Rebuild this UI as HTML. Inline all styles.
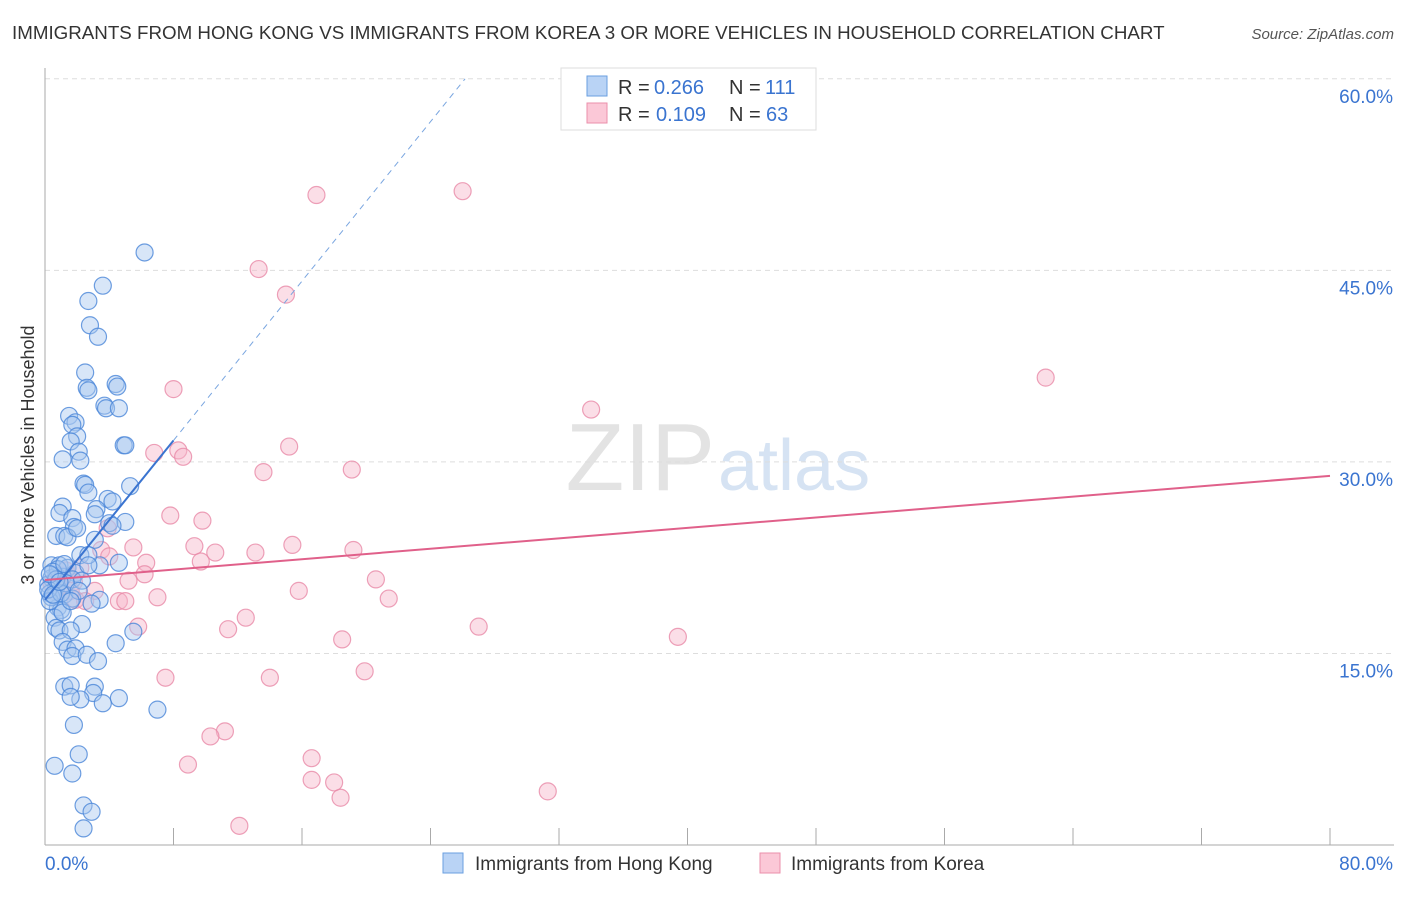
<!DOCTYPE html>
<html><head><meta charset="utf-8"><style>
body{margin:0;background:#fff;font-family:"Liberation Sans",sans-serif;}
svg text{font-family:"Liberation Sans",sans-serif;}
</style></head><body>
<svg width="1406" height="892">
<text x="12" y="39" font-size="18.75" fill="#333">IMMIGRANTS FROM HONG KONG VS IMMIGRANTS FROM KOREA 3 OR MORE VEHICLES IN HOUSEHOLD CORRELATION CHART</text>
<text x="1394" y="39" font-size="15" fill="#555" font-style="italic" text-anchor="end">Source: ZipAtlas.com</text>
<text x="715" y="490" font-size="96" fill="#e3e3e3" text-anchor="end" font-family="Liberation Serif">ZIP</text>
<text x="718" y="490" font-size="72" fill="#d6e3f3">atlas</text>
<g id="grid"></g>
<g id="axes"></g>
<text transform="translate(34,455) rotate(-90)" font-size="18" fill="#333" text-anchor="middle">3 or more Vehicles in Household</text>
<g id="marks"></g>
<g id="trend"></g>
<g>
<rect x="561" y="68" width="255" height="62" fill="#fff" stroke="#ddd"/>
<rect x="587" y="76" width="20" height="20" fill="#b9d3f5" stroke="#6a9fe0"/>
<rect x="587" y="103" width="20" height="20" fill="#fbc8d7" stroke="#eb8fab"/>
<text x="618" y="94" font-size="20" fill="#333">R =</text><text x="654" y="94" font-size="20" fill="#3a74d0">0.266</text>
<text x="729" y="94" font-size="20" fill="#333">N =</text><text x="765" y="94" font-size="20" fill="#3a74d0">111</text>
<text x="618" y="121" font-size="20" fill="#333">R =</text><text x="656" y="121" font-size="20" fill="#3a74d0">0.109</text>
<text x="729" y="121" font-size="20" fill="#333">N =</text><text x="766" y="121" font-size="20" fill="#3a74d0">63</text>
</g>
<g>
<rect x="443" y="853" width="20" height="20" fill="#b9d3f5" stroke="#6a9fe0"/>
<text x="475" y="870" font-size="19" fill="#333">Immigrants from Hong Kong</text>
<rect x="760" y="853" width="20" height="20" fill="#fbc8d7" stroke="#eb8fab"/>
<text x="791" y="870" font-size="19" fill="#333">Immigrants from Korea</text>
</g>
</svg>
<script>
const yTicks=[15,30,45,60];
const xTickLabels=["0.0%","80.0%"];
const blueTrend=[19.2,1.56];
const pinkTrend=[20.75,0.102];
const blueX=[6.2,3.6,2.7,2.8,3.3,2.5,2.6,2.7,4.4,4.5,3.7,3.8,4.6,1.5,1.9,1.7,2.0,1.6,4.9,5.0,2.1,2.2,1.1,5.3,2.4,2.5,2.7,3.9,4.2,1.1,3.2,3.1,5.0,4.0,4.2,0.9,1.7,1.8,0.7,1.2,1.4,3.1,2.2,4.6,3.4,0.4,0.9,1.4,0.7,1.9,1.1,0.4,0.2,0.7,1.7,2.3,0.3,0.6,1.2,1.7,3.4,2.9,0.8,1.0,0.6,2.3,0.7,0.9,1.6,5.5,1.1,4.4,1.4,1.9,1.7,2.6,3.3,1.2,1.6,3.1,3.0,2.2,1.6,4.6,3.6,7.0,1.8,2.1,0.6,1.7,2.4,2.9,2.4,0.4,0.8,0.3,0.2,1.1,0.5,1.3,2.1,2.7,1.0,0.7,0.3,1.2,1.6,2.7,2.0,0.5,0.9];
const blueY=[46.4,43.8,42.6,40.7,39.8,37.0,35.8,35.6,36.1,35.9,34.4,34.2,34.2,33.6,33.1,32.9,32.0,31.6,31.3,31.3,30.8,30.1,30.2,28.1,28.3,28.2,27.6,27.1,26.9,26.5,26.3,25.9,25.3,25.2,25.0,26.0,25.6,24.9,24.2,24.2,24.1,23.9,22.7,22.1,21.9,21.9,21.9,21.7,21.1,21.3,21.0,20.9,20.4,20.2,20.8,20.7,19.7,19.5,19.6,19.3,19.2,18.9,18.6,18.4,17.8,17.3,17.0,16.8,16.8,16.7,15.9,15.8,15.3,15.4,14.8,14.9,14.4,12.4,12.5,12.4,11.9,11.4,11.6,11.5,11.1,10.6,9.4,7.1,6.2,5.6,3.1,2.6,1.3,19.4,21.6,19.1,20.0,18.2,21.4,20.5,19.9,22.7,19.7,20.8,21.2,22.0,19.1,21.9,24.8,19.6,20.6];
const pinkX=[26.0,16.9,13.3,15.0,62.3,8.0,34.0,15.2,6.8,8.3,8.6,13.6,19.1,7.8,9.8,3.9,9.3,19.2,15.4,13.1,10.6,3.5,5.5,9.7,4.0,6.3,2.2,1.1,6.2,20.6,5.2,1.8,0.9,15.8,21.4,7.0,4.6,5.0,1.9,12.5,5.8,11.4,27.0,18.5,39.4,19.9,14.0,7.5,11.2,10.3,8.9,16.6,16.6,18.0,18.4,31.3,12.1,0.7,0.4,1.6,1.3,3.1,2.5];
const pinkY=[51.2,50.9,45.1,43.1,36.6,35.7,34.1,31.2,30.7,30.9,30.4,29.2,29.4,25.8,25.4,24.8,23.4,23.1,23.5,22.9,22.9,23.1,23.3,22.2,22.6,22.1,21.7,21.1,21.2,20.8,20.7,20.6,20.2,19.9,19.3,19.4,19.1,19.1,19.2,17.8,17.1,16.9,17.1,16.1,16.3,13.6,13.1,13.1,8.9,8.5,6.3,6.8,5.1,4.9,3.7,4.2,1.5,19.8,20.5,19.9,21.5,19.9,19.1];
const X0=45,X1=1330,Y0=845,PX=(X1-X0)/80,PY=12.77;
const xs=v=>X0+v*PX, ys=v=>Y0-v*PY;
const NS="http://www.w3.org/2000/svg";
function mk(t,a,p){const e=document.createElementNS(NS,t);for(const k in a)e.setAttribute(k,a[k]);p.appendChild(e);return e;}
const grid=document.getElementById('grid'),axes=document.getElementById('axes'),marks=document.getElementById('marks'),trend=document.getElementById('trend');
yTicks.forEach(t=>{
 const l=mk('line',{x1:X0,x2:1394,y1:ys(t),y2:ys(t),stroke:'#ddd','stroke-dasharray':'5,4'},grid);
 
 
 const tx=mk('text',{x:1393,y:ys(t)+24,'font-size':19,fill:'#3a74d0','text-anchor':'end'},axes);
 tx.textContent=t.toFixed(1)+'%';
 
 
});
const yl=mk('line',{x1:X0,x2:X0,y1:68,y2:Y0,stroke:'#aaa'},axes);


const xl=mk('line',{x1:X0,x2:1394,y1:Y0,y2:Y0,stroke:'#aaa'},axes);


for(let i=0;i<=10;i++){const t=mk('line',{x1:xs(i*8),x2:xs(i*8),y1:Y0,y2:Y0-17,stroke:'#aaa'},axes);
 
 }
[[0,45,'start'],[80,1393,'end']].forEach((d,i)=>{const t=mk('text',{x:d[1],y:870,'font-size':19,fill:'#3a74d0','text-anchor':d[2]},axes);t.textContent=xTickLabels[i];
 
 });
function pts(X,Y,fill,stroke,name){X.forEach((x,i)=>{const c=mk('circle',{cx:xs(x),cy:ys(Y[i]),r:8.5,fill:fill,'fill-opacity':0.45,stroke:stroke,'stroke-width':1.2,'stroke-opacity':0.8},marks);
 
 });}
pts(pinkX,pinkY,'#f7b5c9','#e88aa7','point-korea');
pts(blueX,blueY,'#a9c8f0','#4a86d8','point-hongkong');
const [ab,bb]=blueTrend,[ap,bp]=pinkTrend;
const bmax=8;
const t1=mk('line',{x1:xs(0),y1:ys(ab),x2:xs(bmax),y2:ys(ab+bb*bmax),stroke:'#3a74d0','stroke-width':2},trend);


const xe=(60-ab)/bb;
const t2=mk('line',{x1:xs(bmax),y1:ys(ab+bb*bmax),x2:xs(xe),y2:ys(60),stroke:'#7aa6e0','stroke-width':1,'stroke-dasharray':'6,5'},trend);


const t3=mk('line',{x1:xs(0),y1:ys(ap),x2:xs(80),y2:ys(ap+bp*80),stroke:'#e0608a','stroke-width':2},trend);


</script>
</body></html>
